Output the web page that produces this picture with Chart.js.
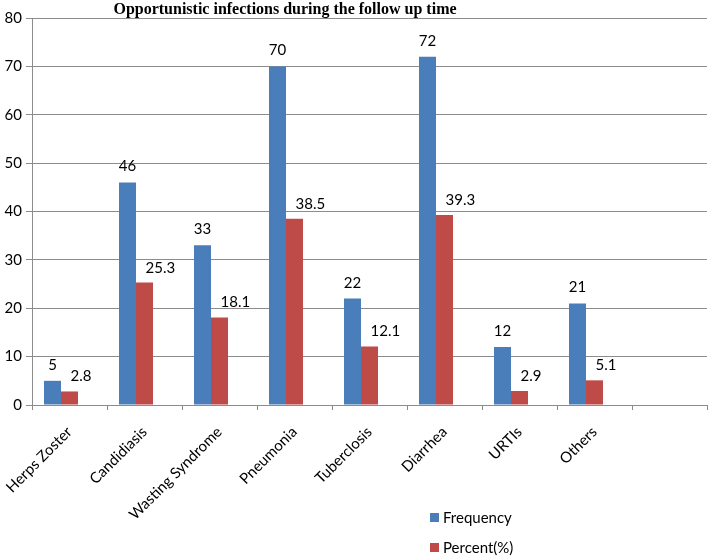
<!DOCTYPE html>
<html>
<head>
<meta charset="utf-8">
<title>Opportunistic infections</title>
<script src="https://cdn.jsdelivr.net/npm/chart.js@4.4.1/dist/chart.umd.min.js"></script>
<style>
    html, body { margin: 0; padding: 0; background: #fff; }
    #wrap { width: 708px; height: 557px; position: relative; }
</style>
</head>
<body>
<div id="wrap"><canvas id="oiChart"></canvas></div>
<script>
// Data
const categories = ['Herps Zoster', 'Candidiasis', 'Wasting Syndrome', 'Pneumonia', 'Tuberclosis', 'Diarrhea', 'URTIs', 'Others', ''];
const frequency = [5, 46, 33, 70, 22, 72, 12, 21, null];
const percent = [2.8, 25.3, 18.1, 38.5, 12.1, 39.3, 2.9, 5.1, null];
const emptySeries = [null, null, null, null, null, null, null, null, null];
const yTicks = [0, 10, 20, 30, 40, 50, 60, 70, 80];

const chartTitle = 'Opportunistic infections during the follow up time';
const blue = '#4a7ebb';
const red = '#be4b48';
const gridGrey = '#8c8c8c';
const labelFont = '15px Lato, "Open Sans", sans-serif';

// value labels above the bars
const valueLabels = {
    id: 'valueLabels',
    afterDatasetsDraw(chart) {
        const ctx = chart.ctx;
        ctx.save();
        ctx.font = labelFont;
        ctx.fillStyle = '#000';
        ctx.textBaseline = 'alphabetic';
        [0, 1].forEach(di => {
            const meta = chart.getDatasetMeta(di);
            const data = chart.data.datasets[di].data;
            meta.data.forEach((bar, i) => {
                if (data[i] == null) return;
                if (di === 0) {
                    ctx.textAlign = 'center';
                    ctx.fillText(String(data[i]), bar.x, bar.y - 11);
                } else {
                    ctx.textAlign = 'left';
                    ctx.fillText(data[i].toFixed(1), bar.x + 1, bar.y - 10);
                }
            });
        });
        ctx.restore();
    }
};

// title + vertical legend like the Excel original
const decorations = {
    id: 'decorations',
    afterDraw(chart) {
        const ctx = chart.ctx;
        ctx.save();
        ctx.font = 'bold 16px "Liberation Serif", "Times New Roman", serif';
        ctx.fillStyle = '#000';
        ctx.textAlign = 'center';
        ctx.textBaseline = 'alphabetic';
        ctx.fillText(chartTitle, 285, 14);

        ctx.font = labelFont;
        ctx.textAlign = 'left';
        ctx.textBaseline = 'middle';
        [0, 1].forEach((di, k) => {
            const ds = chart.data.datasets[di];
            const y = 518 + k * 30;
            ctx.fillStyle = ds.backgroundColor;
            ctx.fillRect(430, y - 5, 9, 9);
            ctx.fillStyle = '#000';
            ctx.fillText(ds.label, 443, y);
        });
        ctx.restore();
    }
};

const ctx = document.getElementById('oiChart').getContext('2d');
const oiChart = new Chart(ctx, {
    type: 'bar',
    data: {
        labels: categories,
        datasets: [
            { label: 'Frequency', data: frequency, backgroundColor: blue },
            { label: 'Percent(%)', data: percent, backgroundColor: red },
            { label: '', data: emptySeries, backgroundColor: 'transparent' }
        ]
    },
    options: {
        responsive: true,
        maintainAspectRatio: false,
        animation: false,
        devicePixelRatio: 1,
        layout: { padding: { top: 18, right: 1, left: 0, bottom: 0 } },
        datasets: {
            bar: { categoryPercentage: 0.68, barPercentage: 1.0, borderWidth: 0 }
        },
        plugins: {
            legend: { display: false },
            title: { display: false },
            tooltip: { enabled: false }
        },
        scales: {
            x: {
                afterFit: scale => {
                    scale.height = 152;
                    scale.paddingLeft = 0;
                    scale.paddingRight = 0;
                },
                grid: {
                    offset: true,
                    drawOnChartArea: false,
                    tickLength: 5,
                    color: gridGrey
                },
                border: { color: gridGrey },
                ticks: {
                    autoSkip: false,
                    minRotation: 45,
                    maxRotation: 45,
                    padding: 13,
                    color: '#000',
                    font: { family: 'Lato, "Open Sans", sans-serif', size: 15 }
                }
            },
            y: {
                min: 0,
                max: 80,
                afterFit: scale => { scale.width = 32; },
                afterBuildTicks: scale => { scale.ticks = yTicks.map(v => ({ value: v })); },
                grid: { color: gridGrey, tickLength: 6 },
                border: { color: gridGrey },
                ticks: {
                    padding: 4,
                    color: '#000',
                    font: { family: 'Lato, "Open Sans", sans-serif', size: 15 }
                }
            }
        }
    },
    plugins: [valueLabels, decorations]
});
</script>
</body>
</html>
